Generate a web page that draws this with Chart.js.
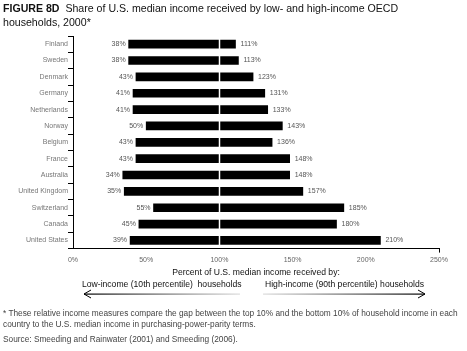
<!DOCTYPE html>
<html>
<head>
<meta charset="utf-8">
<script src="https://cdn.jsdelivr.net/npm/chart.js@4"></script>
<style>
  body { margin: 0; background: #fff; }
  #wrap { position: relative; width: 467px; height: 351px; overflow: hidden; font-family: "Liberation Sans", Arial, sans-serif; color: #222; }
  #chart { position: absolute; left: 0; top: 0; }
  .t { position: absolute; white-space: nowrap; }
  #title { left: 3px; top: 1px; font-size: 10.6px; line-height: 14px; color: #111; }
  #title b { font-weight: bold; }
  #xlab { left: 256px; top: 267px; transform: translateX(-50%); font-size: 8.6px; color: #111; }
  #lowlab { left: 82px; top: 279px; font-size: 8.6px; color: #111; }
  #highlab { left: 265px; top: 279px; font-size: 8.6px; color: #111; }
  #note { left: 3px; top: 308px; font-size: 8.3px; line-height: 11px; color: #444; }
  #src { left: 3px; top: 334px; font-size: 8.3px; color: #444; }
  svg { position: absolute; left: 0; top: 0; }
</style>
</head>
<body>
<div id="wrap">
  <canvas id="chart" width="467" height="351"></canvas>
  <div class="t" id="title"><b>FIGURE 8D</b>&nbsp; Share of U.S. median income received by low- and high-income OECD<br>households, 2000*</div>
  <div class="t" id="xlab">Percent of U.S. median income received by:</div>
  <div class="t" id="lowlab">Low-income (10th percentile)&nbsp; households</div>
  <div class="t" id="highlab">High-income (90th percentile) households</div>
  <svg width="467" height="351">
    <defs>
      <linearGradient id="gl" x1="0" x2="1" y1="0" y2="0">
        <stop offset="0" stop-color="#000"/>
        <stop offset="1" stop-color="#ddd"/>
      </linearGradient>
      <linearGradient id="gr" x1="0" x2="1" y1="0" y2="0">
        <stop offset="0" stop-color="#ddd"/>
        <stop offset="1" stop-color="#000"/>
      </linearGradient>
    </defs>
    <rect x="84" y="293.5" width="156" height="1.2" fill="url(#gl)"/>
    <path d="M91 290 L84 294 L91 298" fill="none" stroke="#000" stroke-width="1"/>
    <rect x="263" y="293.5" width="162" height="1.2" fill="url(#gr)"/>
    <path d="M418 290 L425 294 L418 298" fill="none" stroke="#000" stroke-width="1"/>
  </svg>
  <div class="t" id="note">* These relative income measures compare the gap between the top 10% and the bottom 10% of household income in each<br>country to the U.S. median income in purchasing-power-parity terms.</div>
  <div class="t" id="src">Source: Smeeding and Rainwater (2001) and Smeeding (2006).</div>
</div>
<script>
var countries = ['Finland', 'Sweden', 'Denmark', 'Germany', 'Netherlands', 'Norway', 'Belgium', 'France', 'Australia', 'United Kingdom', 'Switzerland', 'Canada', 'United States'];
var lowIncome = [38, 38, 43, 41, 41, 50, 43, 43, 34, 35, 55, 45, 39];
var highIncome = [111, 113, 123, 131, 133, 143, 136, 148, 148, 157, 185, 180, 210];
var xTicks = [0, 50, 100, 150, 200, 250];

var labelFont = '7px "Liberation Sans", Arial, sans-serif';

// white split at 100% and value labels at both ends
var barLabels = {
    id: 'barLabels',
    afterDatasetsDraw: function (chart) {
        var c = chart.ctx;
        var x = chart.scales.x;
        var meta = chart.getDatasetMeta(0);
        c.save();
        c.strokeStyle = '#fff';
        c.lineWidth = 1.5;
        var px = Math.round(x.getPixelForValue(100)) + 0.5;
        c.beginPath();
        c.moveTo(px, chart.chartArea.top);
        c.lineTo(px, chart.chartArea.bottom - 1);
        c.stroke();
        c.font = labelFont;
        c.fillStyle = '#555';
        c.textBaseline = 'middle';
        meta.data.forEach(function (bar, i) {
            c.textAlign = 'right';
            c.fillText(lowIncome[i] + '%', x.getPixelForValue(lowIncome[i]) - 3, bar.y);
            c.textAlign = 'left';
            c.fillText(highIncome[i] + '%', x.getPixelForValue(highIncome[i]) + 5, bar.y);
        });
        c.restore();
    }
};

new Chart(document.getElementById('chart'), {
    type: 'bar',
    data: {
        labels: countries,
        datasets: [{
            data: countries.map(function (c, i) { return [lowIncome[i], highIncome[i]]; }),
            backgroundColor: '#000',
            barThickness: 8
        }]
    },
    options: {
        indexAxis: 'y',
        responsive: false,
        animation: false,
        layout: { padding: { left: 0, right: 28, top: 36, bottom: 84 } },
        plugins: { legend: { display: false }, tooltip: { enabled: false } },
        scales: {
            x: {
                min: 0, max: 250,
                afterBuildTicks: function (axis) { axis.ticks = xTicks.map(function (v) { return { value: v }; }); },
                grid: {
                    drawOnChartArea: false, tickLength: 4,
                    color: function (ctx) { return ctx.tick && ctx.tick.value === 250 ? '#000' : 'rgba(0,0,0,0)'; }
                },
                border: { color: '#000', width: 1 },
                ticks: { color: '#666', font: { size: 7, family: '"Liberation Sans", Arial, sans-serif' }, padding: 3, callback: function (v) { return v + '%'; } }
            },
            y: {
                afterFit: function (axis) { axis.width = 73; },
                grid: { drawOnChartArea: false, color: '#000', tickLength: 5, offset: true },
                border: { color: '#000', width: 1 },
                ticks: { color: '#777', font: { size: 7, family: '"Liberation Sans", Arial, sans-serif' }, padding: 0 }
            }
        }
    },
    plugins: [barLabels]
});
</script>
</body>
</html>
